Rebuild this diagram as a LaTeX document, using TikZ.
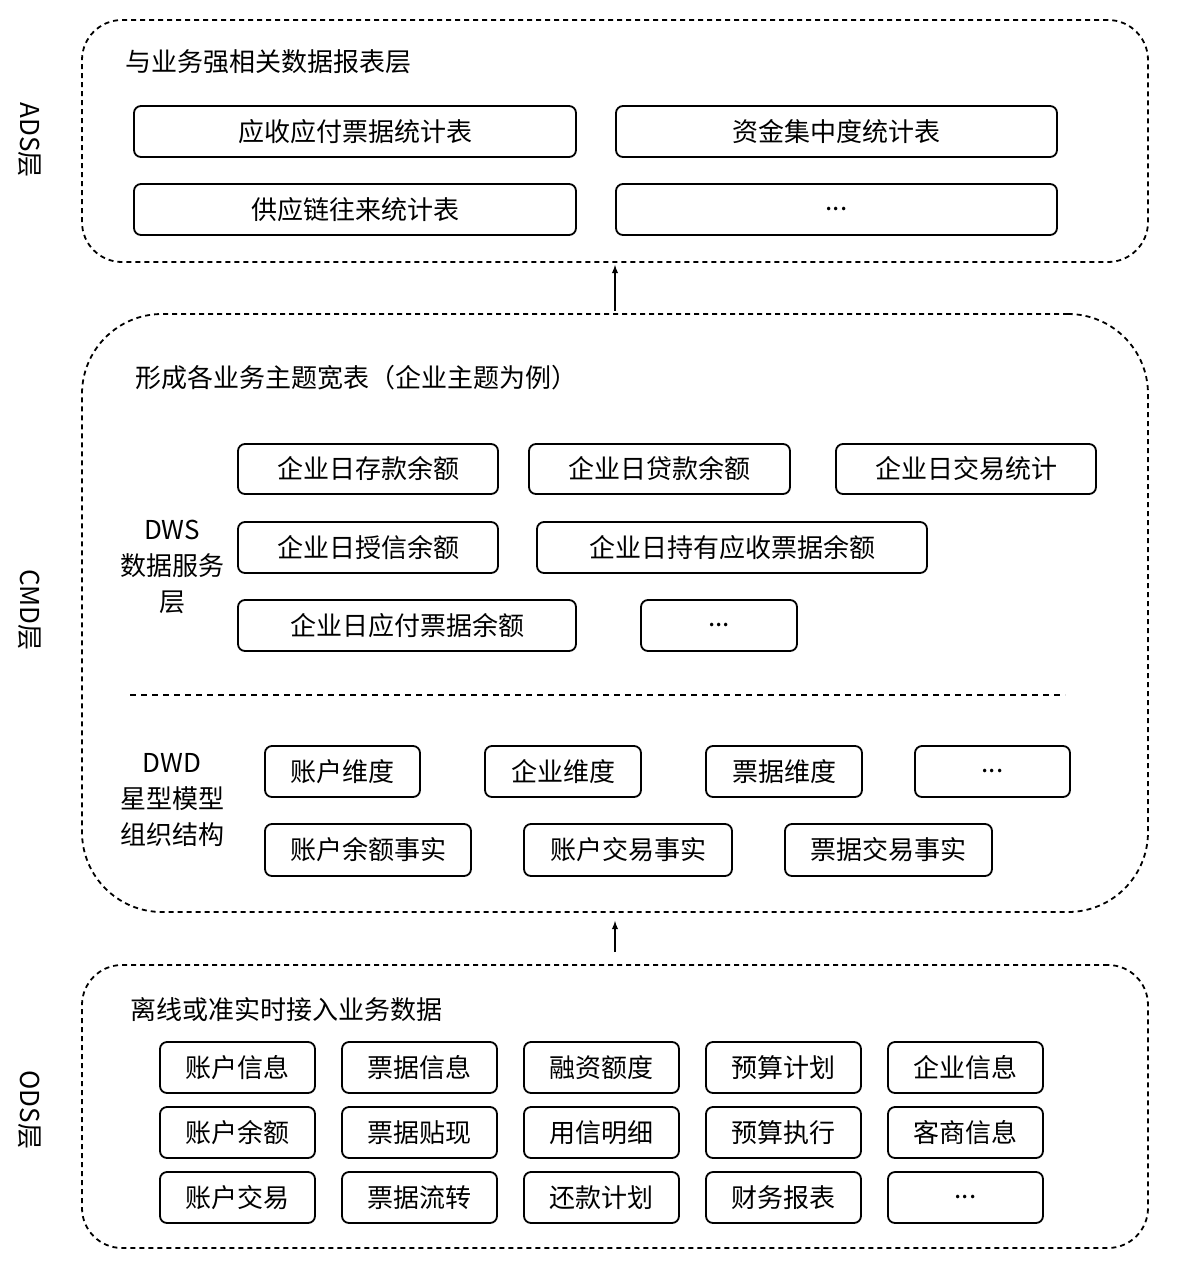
\documentclass[tikz,border=0pt]{standalone}
\usepackage{fontspec}
\setmainfont{Noto Sans CJK SC}
\begin{document}
\begin{tikzpicture}[x=1pt,y=-1pt,
  box/.style={draw,line width=1.8pt,rounded corners=7pt,inner sep=0pt,font=\fontsize{26}{30}\selectfont},
  cont/.style={draw,line width=1.8pt,dash pattern=on 5pt off 4pt,inner sep=0pt},
  ttl/.style={anchor=west,font=\fontsize{26}{30}\selectfont,inner sep=0pt},
  lay/.style={rotate=-90,font=\fontsize{26}{30}\selectfont,inner sep=0pt},
  sub/.style={align=center,font=\fontsize{26}{36}\selectfont,inner sep=0pt}]
\useasboundingbox (0,0) rectangle (1184,1262);
\newcommand\bx[6]{\node[box,minimum width={(#4-#2)*1pt},minimum height={(#5-#3)*1pt}] (#1) at ({(#2+#4)/2},{(#3+#5)/2}) {#6};}
\newcommand\ct[6]{\node[cont,rounded corners=#6,minimum width={(#4-#2)*1pt},minimum height={(#5-#3)*1pt}] (#1) at ({(#2+#4)/2},{(#3+#5)/2}) {};}
% ADS
\ct{ads}{82}{20}{1148}{262}{40pt}
\node[ttl] (adst) at (125,62) {与业务强相关数据报表层};
\node[lay] (adsl) at (30,140) {ADS层};
\bx{a1}{134}{106}{576}{157}{应收应付票据统计表}
\bx{a2}{616}{106}{1057}{157}{资金集中度统计表}
\bx{a3}{134}{184}{576}{235}{供应链往来统计表}
\bx{a4}{616}{184}{1057}{235}{...}
% CMD
\ct{cmd}{82}{314}{1148}{912}{80pt}
\node[ttl] (cmdt) at (135,378) {形成各业务主题宽表（企业主题为例）};
\node[lay] (cmdl) at (30,610) {CMD层};
\node[sub] (dws) at (172,567) {DWS\\数据服务\\层};
\bx{d1}{238}{444}{498}{494}{企业日存款余额}
\bx{d2}{529}{444}{790}{494}{企业日贷款余额}
\bx{d3}{836}{444}{1096}{494}{企业日交易统计}
\bx{d4}{238}{522}{498}{573}{企业日授信余额}
\bx{d5}{537}{522}{927}{573}{企业日持有应收票据余额}
\bx{d6}{238}{600}{576}{651}{企业日应付票据余额}
\bx{d7}{641}{600}{797}{651}{...}
\coordinate (sepa) at (130,695);
\coordinate (sepb) at (1065,695);
\draw[line width=1.8pt,dash pattern=on 6pt off 5pt] (sepa) -- (sepb);
\node[sub] (dwd) at (172,800) {DWD\\星型模型\\组织结构};
\bx{w1}{265}{746}{420}{797}{账户维度}
\bx{w2}{485}{746}{641}{797}{企业维度}
\bx{w3}{706}{746}{862}{797}{票据维度}
\bx{w4}{915}{746}{1070}{797}{...}
\bx{w5}{265}{824}{471}{876}{账户余额事实}
\bx{w6}{524}{824}{732}{876}{账户交易事实}
\bx{w7}{785}{824}{992}{876}{票据交易事实}
% ODS
\ct{ods}{82}{965}{1148}{1248}{40pt}
\node[ttl] (odst) at (130,1010) {离线或准实时接入业务数据};
\node[lay] (odsl) at (30,1110) {ODS层};
\bx{o11}{160}{1042}{315}{1093}{账户信息}
\bx{o12}{342}{1042}{497}{1093}{票据信息}
\bx{o13}{524}{1042}{679}{1093}{融资额度}
\bx{o14}{706}{1042}{861}{1093}{预算计划}
\bx{o15}{888}{1042}{1043}{1093}{企业信息}
\bx{o21}{160}{1107}{315}{1158}{账户余额}
\bx{o22}{342}{1107}{497}{1158}{票据贴现}
\bx{o23}{524}{1107}{679}{1158}{用信明细}
\bx{o24}{706}{1107}{861}{1158}{预算执行}
\bx{o25}{888}{1107}{1043}{1158}{客商信息}
\bx{o31}{160}{1172}{315}{1223}{账户交易}
\bx{o32}{342}{1172}{497}{1223}{票据流转}
\bx{o33}{524}{1172}{679}{1223}{还款计划}
\bx{o34}{706}{1172}{861}{1223}{财务报表}
\bx{o35}{888}{1172}{1043}{1223}{...}
% arrows
\draw[line width=1.8pt,-latex,shorten <=12pt,shorten >=8pt] (ods.north -| 615,0) -- (cmd.south -| 615,0);
\draw[line width=1.8pt,-latex,shorten <=2pt,shorten >=2pt] (cmd.north -| 615,0) -- (ads.south -| 615,0);
\end{tikzpicture}
\end{document}
